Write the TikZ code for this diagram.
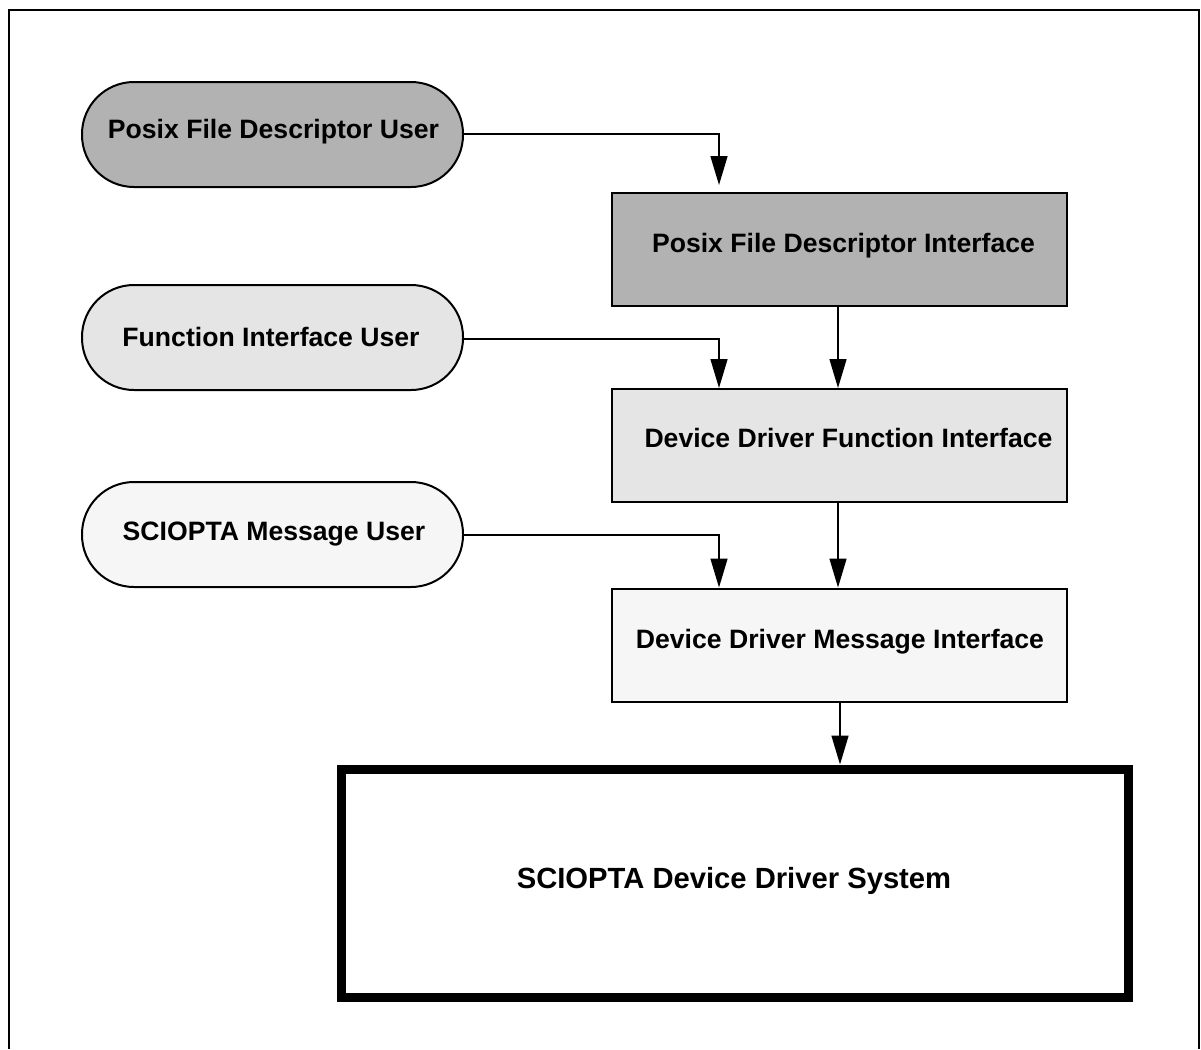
\documentclass[tikz,border=0pt]{standalone}
\usepackage{fontspec}
\setmainfont{Liberation Sans}
\usetikzlibrary{arrows.meta}
\definecolor{gdark}{gray}{0.70}
\definecolor{gmid}{gray}{0.90}
\definecolor{glight}{gray}{0.965}
\begin{document}
\begin{tikzpicture}[x=1pt,y=-1pt,
  lbl/.style={font=\fontsize{26.6}{32}\selectfont\bfseries,anchor=base,inner sep=0pt},
  user/.style={draw,line width=2pt,rounded corners=52pt,minimum width=381pt,minimum height=105pt,inner sep=0pt},
  iface/.style={draw,line width=2pt,minimum width=455pt,minimum height=113pt,inner sep=0pt},
  arr/.style={line width=1.5pt,-{Triangle[length=29pt,width=17pt]}}]
\useasboundingbox (0,0) rectangle (1201,1049);
\draw[line width=2pt] (9,1049) -- (9,10) -- (1199,10) -- (1199,1049);
% users
\node[user,fill=gdark] (pu) at (272.5,134.5) {};
\node[lbl] (tpu) at (273.5,138) {Posix File Descriptor User};
\node[user,fill=gmid] (fu) at (272.5,337.5) {};
\node[lbl] (tfu) at (271,346) {Function Interface User};
\node[user,fill=glight] (mu) at (272.5,534.5) {};
\node[lbl] (tmu) at (274,540) {SCIOPTA Message User};
% interfaces
\node[iface,fill=gdark] (pi) at (839.5,249.5) {};
\node[lbl] (tpi) at (843.5,252) {Posix File Descriptor Interface};
\node[iface,fill=gmid] (df) at (839.5,445.5) {};
\node[lbl] (tdf) at (848.5,447) {Device Driver Function Interface};
\node[iface,fill=glight] (dm) at (839.5,645) {};
\node[lbl] (tdm) at (840,648) {Device Driver Message Interface};
% system
\node[draw,line width=9pt,minimum width=787pt,minimum height=228pt,inner sep=0pt] (sys) at (734.5,883) {};
\node[lbl,font=\fontsize{29.2}{35}\selectfont\bfseries] (tsys) at (734,888) {SCIOPTA Device Driver System};
% connectors
\coordinate (colA) at (719,0);
\draw[arr,shorten >=7pt] (pu.east |- 0,134) -| (colA |- pi.north);
\draw[arr] (fu.east |- 0,339) -| (colA |- df.north);
\draw[arr] (mu.east |- 0,535) -| (colA |- dm.north);
\draw[arr] (pi.south -| 838,0) -- (df.north -| 838,0);
\draw[arr] (df.south -| 838,0) -- (dm.north -| 838,0);
\draw[arr] (dm.south -| 840,0) -- (sys.north -| 840,0);
\end{tikzpicture}
\end{document}
